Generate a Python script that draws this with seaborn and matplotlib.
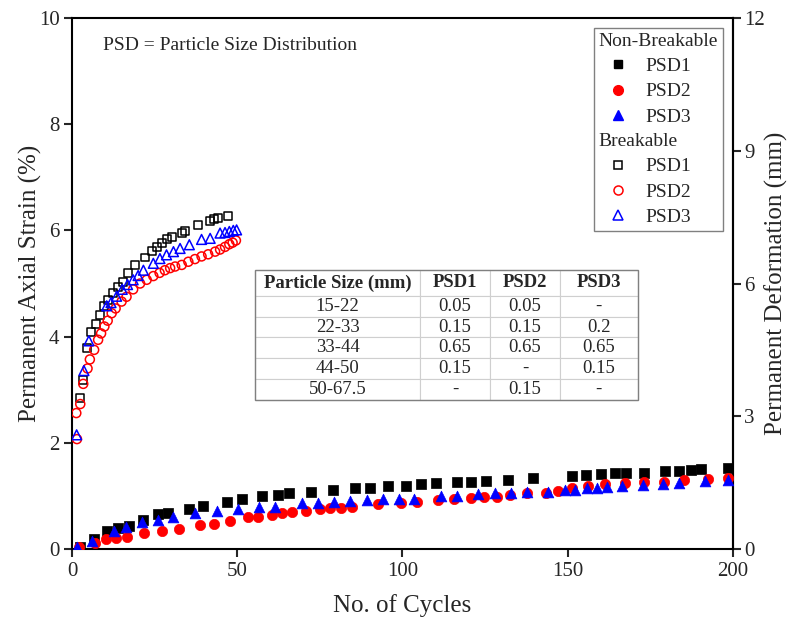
import matplotlib
matplotlib.use("Agg")
import matplotlib.pyplot as plt
import pandas as pd
import seaborn as sns
from matplotlib.lines import Line2D
from matplotlib.patches import Rectangle

# ---- Non-breakable particles: number of cycles vs permanent axial strain (%)
nb_psd1_cycles = [2.4, 6.8, 10.6, 14, 17.3, 21.5, 26, 29, 35.4, 39.5, 47, 51.3, 57.6, 62.4,
                  65.7, 72.2, 79, 85.6, 90.2, 95.7, 101, 105.5, 110, 116.4, 120.6, 125.2,
                  131.8, 139.4, 151.2, 155.5, 160, 164.3, 167.5, 173, 179.4, 183.8, 187.2,
                  190.2, 198.6]
nb_psd1_strain = [0.04, 0.18, 0.33, 0.39, 0.44, 0.55, 0.66, 0.68, 0.75, 0.81, 0.89, 0.94, 0.99,
                  1.02, 1.05, 1.07, 1.11, 1.14, 1.15, 1.19, 1.19, 1.22, 1.24, 1.26, 1.27, 1.29,
                  1.30, 1.34, 1.37, 1.39, 1.41, 1.43, 1.44, 1.44, 1.47, 1.47, 1.49, 1.51, 1.53]

nb_psd2_cycles = [2.1, 7, 10.2, 13.3, 16.5, 21.8, 27.1, 32.4, 38.7, 43, 47.8, 53.2, 56.2, 60.4,
                  63.4, 66.5, 70.8, 75, 78, 81.3, 84.6, 92.7, 99.5, 104.5, 110.6, 115.6, 120.6,
                  124.7, 128.5, 132.5, 137.6, 143.3, 147, 151.2, 156.2, 161.3, 167.3, 173.1,
                  179.1, 185.2, 192.3, 198.6]
nb_psd2_strain = [0.04, 0.12, 0.18, 0.21, 0.23, 0.30, 0.34, 0.37, 0.45, 0.48, 0.53, 0.60, 0.61,
                  0.64, 0.67, 0.70, 0.72, 0.75, 0.77, 0.78, 0.80, 0.85, 0.86, 0.89, 0.92, 0.94,
                  0.97, 0.98, 0.98, 1.02, 1.05, 1.06, 1.10, 1.14, 1.19, 1.22, 1.24, 1.26, 1.27,
                  1.30, 1.32, 1.33]

nb_psd3_cycles = [1.4, 6, 12.8, 16.2, 21.1, 26, 30.7, 37.2, 43.8, 50.3, 56.6, 61.4, 69.5, 74.5,
                  79.4, 84.1, 89.2, 94, 98.8, 103.6, 111.6, 116.4, 122.9, 127.9, 132.7, 137.6,
                  144.1, 149.2, 152.2, 155.7, 158.8, 161.8, 166.3, 172.8, 178.9, 183.8, 191.5,
                  198.6]
nb_psd3_strain = [0.04, 0.15, 0.34, 0.41, 0.50, 0.55, 0.60, 0.68, 0.72, 0.75, 0.80, 0.80, 0.86,
                  0.86, 0.89, 0.91, 0.92, 0.94, 0.94, 0.95, 1.00, 1.00, 1.04, 1.05, 1.06, 1.07,
                  1.08, 1.11, 1.12, 1.14, 1.14, 1.16, 1.19, 1.21, 1.22, 1.25, 1.28, 1.30]

# ---- Breakable particles
br_psd1_cycles = [2.3, 3.4, 4.6, 5.7, 7.2, 8.5, 9.8, 11, 12.5, 14, 15.3, 16.8, 19.1, 22.1, 24.1,
                  25.6, 27.1, 28.6, 30.2, 33.2, 34.2, 38.2, 41.8, 43, 44.3, 47.3]
br_psd1_strain = [2.85, 3.18, 3.78, 4.09, 4.24, 4.41, 4.58, 4.69, 4.82, 4.93, 5.03, 5.20, 5.35,
                  5.49, 5.62, 5.69, 5.77, 5.83, 5.88, 5.96, 5.99, 6.10, 6.18, 6.21, 6.23, 6.28]

br_psd2_cycles = [1.5, 1.3, 2.5, 3.4, 4.7, 5.4, 6.7, 7.9, 8.8, 9.8, 10.8, 12, 13.2, 15, 16.5,
                  18.5, 20.6, 22.6, 24.6, 26.5, 28.1, 29.7, 31.2, 33.2, 35.2, 37.2, 39.2, 41.2,
                  43.3, 44.8, 46.3, 47.6, 48.6, 49.6]
br_psd2_strain = [2.07, 2.56, 2.73, 3.11, 3.40, 3.57, 3.75, 3.94, 4.06, 4.19, 4.30, 4.44, 4.53,
                  4.66, 4.75, 4.89, 5.00, 5.07, 5.14, 5.20, 5.25, 5.29, 5.32, 5.35, 5.41, 5.46,
                  5.51, 5.55, 5.60, 5.64, 5.69, 5.74, 5.77, 5.81]

br_psd3_cycles = [1.4, 3.6, 5.1, 10.5, 11.8, 13.5, 15.2, 16.8, 18.5, 20, 21.6, 24.6, 26.6, 28.6,
                  30.7, 32.7, 35.5, 39.2, 41.8, 44.8, 46.3, 47.6, 48.8, 49.8]
br_psd3_strain = [2.15, 3.36, 3.92, 4.58, 4.64, 4.76, 4.89, 4.98, 5.07, 5.15, 5.25, 5.38, 5.47,
                  5.54, 5.60, 5.66, 5.73, 5.83, 5.85, 5.95, 5.96, 5.98, 6.00, 6.01]

# ---- Gradation of each particle size distribution
table_header = ["Particle Size (mm)", "PSD1", "PSD2", "PSD3"]
size_ranges = ["15-22", "22-33", "33-44", "44-50", "50-67.5"]
psd1_fractions = ["0.05", "0.15", "0.65", "0.15", "-"]
psd2_fractions = ["0.05", "0.15", "0.65", "-", "0.15"]
psd3_fractions = ["-", "0.2", "0.65", "0.15", "-"]

# specimen height (mm) per 1 % strain, for the deformation axis
mm_per_percent = 1.2

sns.set_style("ticks")
plt.rcParams["font.family"] = ["Liberation Serif", "DejaVu Serif"]
plt.rcParams["axes.linewidth"] = 1.5

fig = plt.figure(figsize=(7.93, 6.17), dpi=100)
ax = fig.add_axes([0.0908, 0.1102, 0.8335, 0.8606])

series = [
    (nb_psd1_cycles, nb_psd1_strain, "s", "black", True, 42),
    (nb_psd2_cycles, nb_psd2_strain, "o", "red", True, 55),
    (nb_psd3_cycles, nb_psd3_strain, "^", "blue", True, 60),
    (br_psd1_cycles, br_psd1_strain, "s", "black", False, 33),
    (br_psd2_cycles, br_psd2_strain, "o", "red", False, 42),
    (br_psd3_cycles, br_psd3_strain, "^", "blue", False, 50),
]
for cycles, strain, marker, color, filled, size in series:
    df = pd.DataFrame({"cycles": cycles, "strain": strain})
    if filled:
        sns.scatterplot(data=df, x="cycles", y="strain", ax=ax, marker=marker, s=size,
                        color=color, edgecolor=color, linewidth=0.5, legend=False, zorder=3)
    else:
        sns.scatterplot(data=df, x="cycles", y="strain", ax=ax, marker=marker, s=size,
                        color=color, facecolor="none", edgecolor=color, linewidth=1.1,
                        legend=False, zorder=3)

ax.set_xlim(0, 200)
ax.set_ylim(0, 10)
ax.set_xticks([0, 50, 100, 150, 200])
ax.set_yticks([0, 2, 4, 6, 8, 10])
ax.set_xlabel("No. of Cycles", fontsize=18, labelpad=10)
ax.set_ylabel("Permanent Axial Strain (%)", fontsize=18, labelpad=-2)
ax.tick_params(axis="both", direction="out", length=6, width=1.5, labelsize=15, pad=3)
for sp in ax.spines.values():
    sp.set_visible(True)
    sp.set_linewidth(1.5)
    sp.set_color("black")

sec = ax.secondary_yaxis("right", functions=(lambda s: s * mm_per_percent,
                                             lambda d: d / mm_per_percent))
sec.set_yticks([0, 3, 6, 9, 12])
sec.tick_params(direction="out", length=6, width=1.5, labelsize=15, pad=2)
sec.spines["right"].set_linewidth(1.5)
sec.set_ylabel("Permanent Deformation (mm)", fontsize=18, labelpad=0)

ax.text(0.047, 0.949, "PSD = Particle Size Distribution", transform=ax.transAxes,
        fontsize=14, va="center", ha="left")

# legend: two groups, each headed by a title row without a marker
handles = [
    Line2D([], [], linestyle="none"),
    Line2D([], [], linestyle="none", marker="s", markersize=6, color="black"),
    Line2D([], [], linestyle="none", marker="o", markersize=7, color="red"),
    Line2D([], [], linestyle="none", marker="^", markersize=7.5, color="blue"),
    Line2D([], [], linestyle="none"),
    Line2D([], [], linestyle="none", marker="s", markersize=5.5, color="black",
           markerfacecolor="none", markeredgewidth=1.1),
    Line2D([], [], linestyle="none", marker="o", markersize=6.5, color="red",
           markerfacecolor="none", markeredgewidth=1.1),
    Line2D([], [], linestyle="none", marker="^", markersize=7, color="blue",
           markerfacecolor="none", markeredgewidth=1.1),
]
labels = ["Non-Breakable", "PSD1", "PSD2", "PSD3", "Breakable", "PSD1", "PSD2", "PSD3"]
leg = ax.legend(handles, labels, loc="upper right", bbox_to_anchor=(0.985, 0.981),
                borderaxespad=0, frameon=True, fancybox=False, edgecolor="#808080",
                framealpha=1, fontsize=14, handlelength=2.0, handletextpad=0.4,
                labelspacing=0.39, borderpad=0.25)
leg.get_frame().set_linewidth(1.0)
column = leg._legend_handle_box.get_children()[0]
for i, item in enumerate(column.get_children()):
    if labels[i] in ("Non-Breakable", "Breakable"):
        item._children = [item.get_children()[1]]

# gradation table
cell_text = [list(row) for row in zip(size_ranges, psd1_fractions, psd2_fractions, psd3_fractions)]
tbl_box = [0.277, 0.2806, 0.579, 0.2448]
tbl = ax.table(cellText=cell_text, colLabels=table_header, cellLoc="center",
               colWidths=[165, 70, 70, 78], bbox=tbl_box, zorder=4)
tbl.auto_set_font_size(False)
for (r, c), cell in tbl.get_celld().items():
    cell.set_edgecolor("#cfcfcf")
    cell.set_linewidth(0.8)
    cell.set_facecolor("white")
    cell.get_text().set_fontsize(13.5)
    if r == 0:
        cell.get_text().set_fontweight("bold")
        cell.set_height(26)
    else:
        cell.set_height(21)
ax.add_patch(Rectangle((tbl_box[0], tbl_box[1]), tbl_box[2], tbl_box[3], transform=ax.transAxes,
                       fill=False, edgecolor="#808080", linewidth=1.0, zorder=5))

fig.savefig("out.png", dpi=100)
